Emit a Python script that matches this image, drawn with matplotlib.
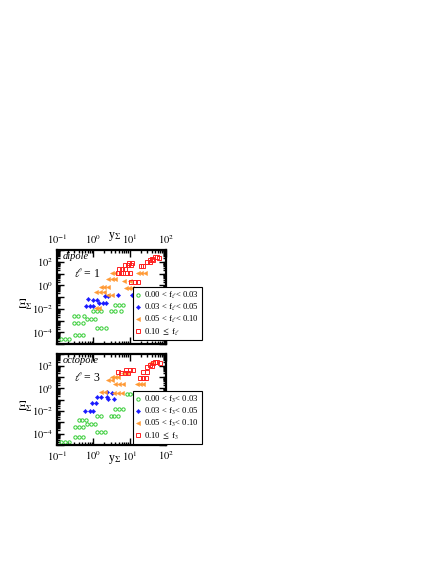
import math

import matplotlib
matplotlib.use('Agg')
import matplotlib.pyplot as plt
from matplotlib.ticker import FixedLocator, FuncFormatter, LogLocator, NullFormatter

plt.rcParams['font.family'] = 'Liberation Serif'
plt.rcParams['mathtext.fontset'] = 'stix'

GREEN = '#33cc33'
BLUE = '#1a1aff'
ORANGE = '#ff9933'
RED = '#ff2222'

# dipole (l = 1)
dip_green_x = [0.13, 0.17, 0.21, 0.31, 0.40, 0.52, 0.29, 0.38, 0.52, 0.29, 0.38, 0.55,
               0.67, 0.86, 1.11, 0.98, 1.26, 1.62, 1.26, 1.62, 2.24, 3.06, 3.95, 5.77,
               3.95, 5.09, 6.56]
dip_green_y = [2.7e-5, 2.7e-5, 2.7e-5, 5.9e-5, 5.9e-5, 5.9e-5, 6.2e-4, 6.2e-4, 6.2e-4,
               2.4e-3, 2.4e-3, 2.4e-3, 1.35e-3, 1.35e-3, 1.35e-3, 6.5e-3, 6.5e-3, 6.5e-3,
               2.3e-4, 2.3e-4, 2.3e-4, 6.5e-3, 6.5e-3, 6.5e-3, 2.1e-2, 2.1e-2, 2.1e-2]
dip_blue_x = [0.63, 0.81, 0.98, 0.71, 0.98, 1.26, 1.43, 1.85, 2.24, 2.09, 2.53, 4.8, 11.6]
dip_blue_y = [1.7e-2, 1.7e-2, 1.7e-2, 6.8e-2, 5.5e-2, 5.5e-2, 3.1e-2, 3.1e-2, 3.1e-2,
              0.123, 0.123, 0.148, 0.148]
dip_orange_x = [1.18, 1.43, 1.18, 1.5, 1.95, 1.6, 2.0, 2.5, 2.53, 3.26, 3.95, 3.26, 4.0,
                2.6, 3.3, 7.9, 9.5, 11.6, 17, 21, 26, 6.9, 10, 15, 19]
dip_orange_y = [1.15e-2, 1.15e-2, 0.27, 0.27, 0.27, 0.75, 0.75, 0.75, 3.4, 3.4, 3.4, 11, 11,
                0.148, 0.148, 0.59, 0.59, 0.59, 11, 11, 11, 2.3, 2.3, 0.148, 0.148]
dip_red_x = [4.8, 5.6, 6.6, 8.5, 10.5, 5.1, 6.2, 7.4, 7.4, 9.0, 10.9, 9.6, 11.6, 10.9, 14, 17,
             20, 24, 30, 36, 41, 49, 56, 66, 36, 45]
dip_red_y = [11, 11, 11, 11, 11, 24, 24, 24, 52, 52, 52, 78, 78, 1.9, 1.9, 1.9,
             45, 45, 100, 140, 180, 250, 250, 200, 100, 140]

# octopole (l = 3)
oct_green_x = [0.13, 0.17, 0.21, 0.31, 0.40, 0.52, 0.31, 0.40, 0.52, 0.40, 0.50, 0.62,
               0.67, 0.86, 1.11, 1.26, 1.6, 1.26, 1.62, 2.09, 3.06, 3.7, 4.8,
               3.95, 5.1, 6.6, 8.5, 10.5, 13]
oct_green_y = [1.8e-5, 1.8e-5, 1.8e-5, 5e-5, 5e-5, 5e-5, 3.8e-4, 3.8e-4, 3.8e-4,
               1.6e-3, 1.6e-3, 1.6e-3, 7e-4, 7e-4, 7e-4, 3.5e-3, 3.5e-3, 1.4e-4, 1.4e-4, 1.4e-4,
               3.5e-3, 3.5e-3, 3.5e-3, 0.0146, 0.0146, 0.0146, 0.3, 0.3, 0.3]
oct_blue_x = [0.6, 0.8, 1.0, 0.92, 1.18, 1.26, 1.62, 2.38, 2.53, 3.7, 2.4, 3.26]
oct_blue_y = [0.0098, 0.0098, 0.0098, 0.049, 0.049, 0.166, 0.166, 0.166, 0.11, 0.11, 0.46, 0.37]
oct_orange_x = [1.6, 2.1, 3.7, 4.8, 6.2, 3.95, 5.1, 6.6, 2.5, 3.3, 3.3, 4.0, 4.8,
                16, 19, 23, 6.6, 8.5, 36, 42]
oct_orange_y = [0.46, 0.46, 0.37, 0.37, 0.37, 2.3, 2.3, 2.3, 5.2, 5.2, 9.5, 9.5, 9.5,
                2.3, 2.3, 2.3, 21, 21, 162, 162]
oct_red_x = [4.8, 5.6, 7.4, 9.0, 8, 10, 12, 19, 23, 29, 23, 30, 30, 36, 43, 50, 58, 68, 40]
oct_red_y = [26, 21, 21, 21, 39, 39, 39, 7.8, 7.8, 7.8, 26, 26, 73, 120, 160, 200, 200, 160, 100]


def y_label(val, pos):
    exp = int(round(math.log10(val)))
    return r'$10^{%d}$' % exp if exp % 2 == 0 else ''


def x_label(val, pos):
    return r'$10^{%d}$' % int(round(math.log10(val)))


def draw_panel(ax, data, name, ell, sub, top_labels, legend_y):
    green_x, green_y, blue_x, blue_y, orange_x, orange_y, red_x, red_y = data
    ax.set_xscale('log')
    ax.set_yscale('log')
    ax.plot(green_x, green_y, 'o', ms=2.4, mfc='none', mec=GREEN, mew=0.7,
            label=r'0.00 < f$_{%s}$< 0.03' % sub)
    ax.plot(blue_x, blue_y, 'D', ms=2.2, mfc=BLUE, mec=BLUE, mew=0.3,
            label=r'0.03 < f$_{%s}$< 0.05' % sub)
    ax.plot(orange_x, orange_y, '<', ms=3.0, mfc=ORANGE, mec=ORANGE, mew=0.3,
            label=r'0.05 < f$_{%s}$< 0.10' % sub)
    ax.plot(red_x, red_y, 's', ms=2.6, mfc='none', mec=RED, color=RED, mew=0.7,
            label=r'0.10 $\leq$ f$_{%s}$' % sub)
    ax.set_xlim(0.1, 100)
    ax.set_ylim(1e-5, 1e3)

    ax.xaxis.set_major_locator(FixedLocator([0.1, 1, 10, 100]))
    ax.xaxis.set_major_formatter(FuncFormatter(x_label))
    ax.xaxis.set_minor_locator(LogLocator(base=10, subs=range(2, 10), numticks=20))
    ax.xaxis.set_minor_formatter(NullFormatter())
    ax.yaxis.set_major_locator(FixedLocator([10.0 ** k for k in range(-5, 4)]))
    ax.yaxis.set_major_formatter(FuncFormatter(y_label))
    ax.yaxis.set_minor_locator(LogLocator(base=10, subs=range(2, 10), numticks=20))
    ax.yaxis.set_minor_formatter(NullFormatter())

    # ticks inside on all four sides, heavy frame
    ax.tick_params(which='both', direction='in', top=True, right=True, width=1.0,
                   labelsize=7.5, pad=3)
    ax.tick_params(which='major', length=5)
    ax.tick_params(which='minor', length=2.5)
    ax.tick_params(axis='x', labeltop=top_labels, labelbottom=not top_labels)
    for s in ax.spines.values():
        s.set_linewidth(1.6)

    ax.text(0.05, 0.935, name, transform=ax.transAxes, fontsize=7.5, style='italic',
            va='center', ha='left')
    ax.text(0.16, 0.745, r'$\ell$ = %d' % ell, transform=ax.transAxes, fontsize=8.5,
            va='center', ha='left')
    ax.text(-0.29, 0.42, r'$\Xi_\Sigma$', transform=ax.transAxes, fontsize=8.5,
            va='center', ha='center')
    label_y = 1.14 if top_labels else -0.165
    ax.text(0.53, label_y, r'y$_\Sigma$', transform=ax.transAxes, fontsize=8.5,
            va='center', ha='center')

    leg = ax.legend(loc='lower left', bbox_to_anchor=(0.70, legend_y), fontsize=6.2,
                    frameon=True, fancybox=False, edgecolor='black', framealpha=1,
                    handlelength=0.6, handletextpad=0.4, borderpad=0.3,
                    labelspacing=0.12, borderaxespad=0)
    leg.get_frame().set_linewidth(0.8)
    leg.set_zorder(5)


fig = plt.figure(figsize=(4.36, 5.64), dpi=100)
ax1 = fig.add_axes([0.1307, 0.390, 0.25, 0.1667])
ax2 = fig.add_axes([0.1307, 0.211, 0.25, 0.161])

draw_panel(ax1, (dip_green_x, dip_green_y, dip_blue_x, dip_blue_y,
                 dip_orange_x, dip_orange_y, dip_red_x, dip_red_y),
           'dipole', 1, r'\ell', True, 0.04)
draw_panel(ax2, (oct_green_x, oct_green_y, oct_blue_x, oct_blue_y,
                 oct_orange_x, oct_orange_y, oct_red_x, oct_red_y),
           'octopole', 3, '3', False, 0.01)

fig.savefig('out.png', dpi=100)
